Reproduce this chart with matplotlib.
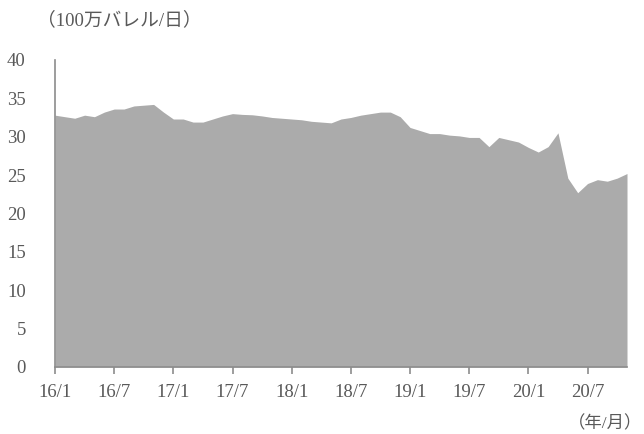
import numpy as np
import matplotlib
matplotlib.use("Agg")
import matplotlib.pyplot as plt

# OPEC crude output, monthly 2016/1 - 2020/11 (million barrels/day)
production = [
    32.8, 32.6, 32.4, 32.8, 32.6, 33.2, 33.6, 33.6, 34.0, 34.1,  # 2016/1-10
    34.2, 33.2,                                                  # 2016/11-12
    32.3, 32.3, 31.9, 31.9, 32.3, 32.7, 33.0, 32.9, 32.85, 32.7,  # 2017
    32.5, 32.4,
    32.3, 32.2, 32.0, 31.9, 31.8, 32.3, 32.5, 32.8, 33.0, 33.2,   # 2018
    33.2, 32.6,
    31.2, 30.8, 30.4, 30.4, 30.2, 30.1, 29.9, 29.9, 28.7, 29.9,   # 2019
    29.6, 29.3,
    28.6, 28.0, 28.7, 30.5, 24.6, 22.7, 23.9, 24.4, 24.2, 24.6,   # 2020
    25.2,
]
tick_labels = ["16/1", "16/7", "17/1", "17/7", "18/1", "18/7",
               "19/1", "19/7", "20/1", "20/7"]
y_ticks = [0, 5, 10, 15, 20, 25, 30, 35, 40]

fonts = ["Liberation Serif", "Noto Sans CJK JP"]
plt.rcParams["font.family"] = fonts
text_color = "#595959"
axis_color = "#8c8c8c"

fig = plt.figure(figsize=(6.44, 4.34), dpi=100)
ax = fig.add_axes([0.0854, 0.1544, 0.8882, 0.7076])

x = np.arange(len(production))
ax.fill_between(x, 0, production, color="#ababab", linewidth=0)

ax.set_xlim(0, len(production) - 1)
ax.set_ylim(0, 40)
ax.set_yticks(y_ticks)
ax.set_xticks(np.arange(0, 6 * len(tick_labels), 6))
ax.set_xticklabels(tick_labels)

for side in ["top", "right"]:
    ax.spines[side].set_visible(False)
for side in ["left", "bottom"]:
    ax.spines[side].set_color(axis_color)
    ax.spines[side].set_linewidth(1.2)

ax.tick_params(axis="y", length=0, pad=21, labelsize=13.5, labelcolor=text_color)
ax.tick_params(axis="x", direction="out", length=5, width=1.2, color=axis_color,
               pad=7, labelsize=13.5, labelcolor=text_color)

fig.text(0.058, 0.953, "（100万バレル/日）", fontsize=13.5, color=text_color,
         ha="left", va="center")
fig.text(0.997, 0.022, "（年/月）", fontsize=12.5, color=text_color,
         ha="right", va="center")

fig.savefig("out.png", dpi=100)
